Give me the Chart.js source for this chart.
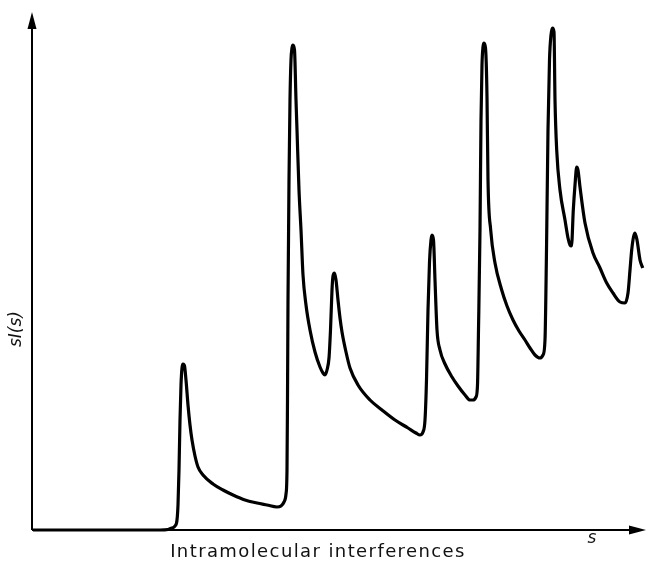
<!DOCTYPE html>
<html lang="en">
<head>
    <meta charset="UTF-8">
    <title>Intramolecular interferences</title>
    <script src="https://cdn.jsdelivr.net/npm/chart.js"></script>
    <style>
        html, body { margin: 0; padding: 0; background: #fff; }
        #wrap { width: 648px; height: 568px; }
    </style>
</head>
<body>
    <div id="wrap"><canvas id="chart" width="648" height="568"></canvas></div>

    <script>
        // s values (arbitrary units, axis runs 0..614)
        const sValues = [
            1, 128, 136, 140, 143, 145, 146, 147, 148, 149, 150, 151, 152.5, 154, 156, 158, 160, 163, 166, 171,
            181, 191, 201, 213, 225, 235, 245, 249, 252, 254, 255, 255.5, 256, 257, 258, 259, 260, 261, 262.5, 264,
            265, 267, 269, 271, 274, 278, 283, 288, 291, 293, 295, 297, 298.5, 300, 301, 302.5, 304, 306, 308, 310,
            314, 318, 326, 338, 350, 363, 376, 384, 388, 391, 393, 394.5, 396, 397.5, 399, 400, 401.5, 403, 405, 408,
            413, 420, 426, 433, 438, 441, 444, 445.5, 446.5, 448, 449, 450, 451, 452, 453.5, 455, 456, 458.7, 463, 469.7,
            475, 481, 487, 493, 498, 503, 508, 511, 513, 514.5, 516, 517.5, 519, 520.5, 522, 523, 524.7, 528, 533, 536,
            538, 539.5, 541.3, 543, 544.7, 546, 548, 553, 561, 568, 574.7, 581, 588, 593, 596, 598, 599.7, 601.5, 603, 605,
            608, 610.7
        ];
        // sI(s) values (arbitrary units)
        const sIValues = [
            0, 0, 0.5, 2, 4, 10, 25, 60, 110, 145, 162, 166, 164, 150, 125, 105, 90, 74, 63, 55,
            46, 40, 35, 30, 27, 25, 23, 24, 28, 36, 60, 130, 230, 350, 430, 470, 482, 485, 480, 430,
            400, 340, 300, 255, 225, 200, 178, 163, 157, 155, 160, 172, 200, 240, 254, 257, 250, 230, 212, 198,
            178, 162, 145, 130, 120, 110, 102, 97, 95, 98, 110, 150, 220, 268, 290, 295, 290, 250, 200, 180,
            166, 153, 144, 135, 130, 130, 133, 145, 200, 300, 410, 465, 483, 487, 482, 433, 350, 300, 267, 240,
            224, 210, 199, 190, 182, 175, 172, 175, 190, 280, 400, 470, 495, 502, 498, 430, 380, 340, 310, 292,
            285, 284, 320, 345, 363, 360, 343, 307, 277, 262, 247, 237, 228, 227, 237, 260, 280, 293, 297, 290,
            270, 262
        ];

        const S_MAX = 614;
        const SI_MAX = 518;

        // axes with arrows + labels, drawn like the printed figure
        const axesPlugin = {
            id: 'axes',
            beforeDatasetsDraw(chart) {
                const ctx = chart.ctx;
                const x0 = chart.scales.x.getPixelForValue(0);
                const x1 = chart.scales.x.getPixelForValue(S_MAX);
                const y0 = chart.scales.y.getPixelForValue(0);
                const y1 = chart.scales.y.getPixelForValue(SI_MAX);
                ctx.save();
                ctx.strokeStyle = '#000';
                ctx.fillStyle = '#000';
                ctx.lineWidth = 2;
                ctx.beginPath();
                ctx.moveTo(x0, y0);
                ctx.lineTo(x0, y1 + 10);
                ctx.moveTo(x0, y0);
                ctx.lineTo(x1 - 10, y0);
                ctx.stroke();
                // arrow heads
                ctx.beginPath();
                ctx.moveTo(x0, y1);
                ctx.lineTo(x0 - 4.5, y1 + 17);
                ctx.lineTo(x0 + 4.5, y1 + 17);
                ctx.closePath();
                ctx.fill();
                ctx.beginPath();
                ctx.moveTo(x1, y0);
                ctx.lineTo(x1 - 17, y0 - 4.5);
                ctx.lineTo(x1 - 17, y0 + 4.5);
                ctx.closePath();
                ctx.fill();

                // labels
                ctx.fillStyle = '#111';
                ctx.textAlign = 'center';
                ctx.textBaseline = 'middle';
                ctx.font = 'italic 17px "DejaVu Sans"';
                ctx.fillText('s', 592, 539);
                ctx.save();
                ctx.translate(17, 329);
                ctx.rotate(-Math.PI / 2);
                ctx.fillText('sI(s)', 0, 0);
                ctx.restore();
                ctx.font = '18px "DejaVu Sans"';
                ctx.letterSpacing = '1.4px';
                ctx.fillText('Intramolecular interferences', 318, 552);
                ctx.restore();
            }
        };

        new Chart(document.getElementById('chart'), {
            type: 'line',
            data: {
                datasets: [{
                    label: 'sI(s)',
                    data: sValues.map((s, i) => ({ x: s, y: sIValues[i] })),
                    borderColor: '#000',
                    borderWidth: 3.2,
                    pointRadius: 0,
                    cubicInterpolationMode: 'monotone',
                    fill: false,
                    clip: false
                }]
            },
            options: {
                responsive: false,
                animation: false,
                layout: { autoPadding: false, padding: { left: 32, right: 2, top: 12, bottom: 38 } },
                plugins: { legend: { display: false }, tooltip: { enabled: false } },
                scales: {
                    x: { type: 'linear', min: 0, max: S_MAX, display: false },
                    y: { min: 0, max: SI_MAX, display: false }
                }
            },
            plugins: [axesPlugin]
        });
    </script>
</body>
</html>
